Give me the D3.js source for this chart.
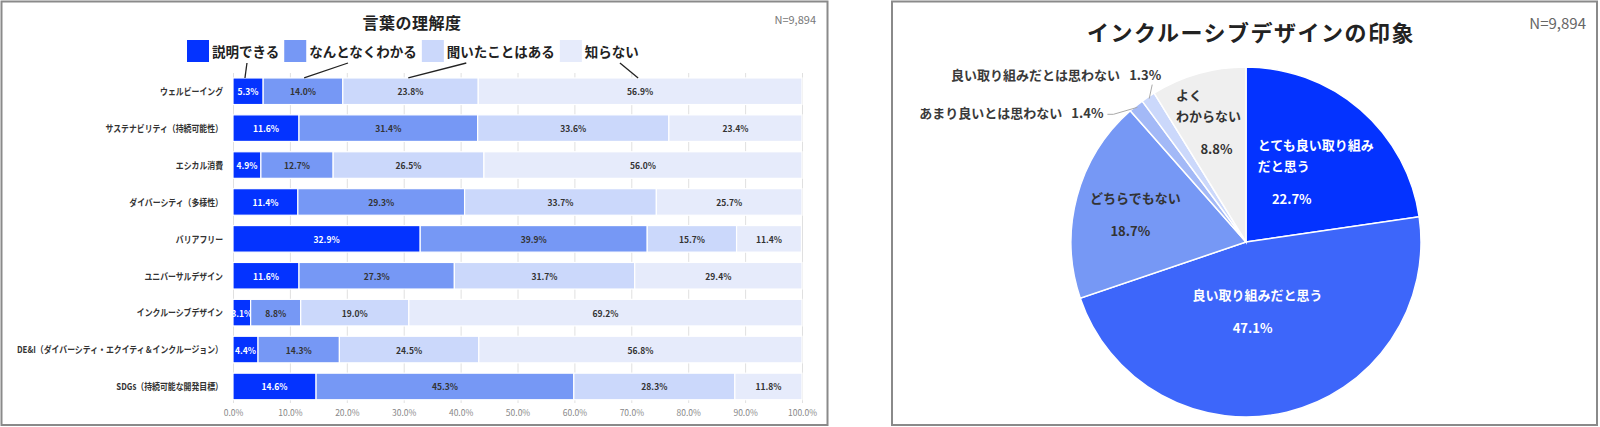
<!DOCTYPE html>
<html>
<head>
<meta charset="utf-8">
<script src="https://cdn.jsdelivr.net/npm/d3@7"></script>
<style>
  body { margin: 0; background: #fff; }
  svg text { font-family: 'Noto Sans CJK JP', 'Noto Sans', sans-serif; }
</style>
</head>
<body>
<div class="container"></div>
<script>
// 左：言葉の理解度
const categories = [
  'ウェルビーイング',
  'サステナビリティ（持続可能性）',
  'エシカル消費',
  'ダイバーシティ（多様性）',
  'バリアフリー',
  'ユニバーサルデザイン',
  'インクルーシブデザイン',
  'DE&I（ダイバーシティ・エクイティ＆インクルージョン）',
  'SDGs（持続可能な開発目標）'
]
const explainable = [5.3, 11.6, 4.9, 11.4, 32.9, 11.6, 3.1, 4.4, 14.6]
const somewhat = [14.0, 31.4, 12.7, 29.3, 39.9, 27.3, 8.8, 14.3, 45.3]
const heard = [23.8, 33.6, 26.5, 33.7, 15.7, 31.7, 19.0, 24.5, 28.3]
const unknown = [56.9, 23.4, 56.0, 25.7, 11.4, 29.4, 69.2, 56.8, 11.8]
const barKeys = ['説明できる', 'なんとなくわかる', '聞いたことはある', '知らない']
const xTicks = [0, 10, 20, 30, 40, 50, 60, 70, 80, 90, 100]
const barTitle = '言葉の理解度'

// 右：インクルーシブデザインの印象
const pieNames = [
  ['とても良い取り組み', 'だと思う'],
  ['良い取り組みだと思う'],
  ['どちらでもない'],
  ['あまり良いとは思わない'],
  ['良い取り組みだとは思わない'],
  ['よく', 'わからない']
]
const pieValues = [22.7, 47.1, 18.7, 1.4, 1.3, 8.8]
const pieTitle = 'インクルーシブデザインの印象'
const sampleSize = 'N=9,894'

// 色
const barColors = ['#0433ff', '#7698f5', '#cbd8fb', '#e6ebfb']
const pieColors = ['#0433ff', '#3d66fa', '#7698f5', '#a3b9f7', '#cbd8fb', '#efefef']

const svg = d3.select('.container')
              .append('svg')
              .attr('width', 1600)
              .attr('height', 427)

// 枠
svg.append('rect')
   .attr('x', 1.5).attr('y', 1.5)
   .attr('width', 826).attr('height', 423.5)
   .attr('fill', '#fff')
   .attr('stroke', '#8a8a8a')
   .attr('stroke-width', 2)
svg.append('rect')
   .attr('x', 892).attr('y', 1.5)
   .attr('width', 705).attr('height', 423.5)
   .attr('fill', '#fff')
   .attr('stroke', '#8a8a8a')
   .attr('stroke-width', 2)

// ---------- 帯グラフ ----------
svg.append('text')
   .attr('x', 412).attr('y', 22)
   .attr('text-anchor', 'middle')
   .attr('dominant-baseline', 'central')
   .style('font-size', '16px')
   .style('font-weight', 'bold')
   .style('letter-spacing', '0.5px')
   .attr('fill', '#222')
   .text(barTitle)

svg.append('text')
   .attr('x', 816).attr('y', 19)
   .attr('text-anchor', 'end')
   .attr('dominant-baseline', 'central')
   .style('font-size', '11px')
   .attr('fill', '#777')
   .text(sampleSize)

const xScale = d3.scaleLinear()
                 .domain([0, 100])
                 .range([233, 802])
const yScale = d3.scaleBand()
                 .domain(categories)
                 .range([72.8, 404.9])
                 .paddingInner(0.28)
                 .paddingOuter(0.14)

// グリッド
svg.append('g')
   .attr('class', 'grid')
   .attr('transform', 'translate(0,403)')
   .call(d3.axisBottom(xScale).tickValues(xTicks).tickSize(-330).tickFormat(''))
   .call(g => g.select('.domain').remove())
   .selectAll('line')
   .attr('stroke', '#e0e0e0')

// 目盛りラベル
svg.append('g')
   .attr('class', 'x-axis')
   .attr('transform', 'translate(0,407)')
   .call(d3.axisBottom(xScale).tickValues(xTicks).tickSize(0).tickPadding(3)
           .tickFormat(d => d.toFixed(1) + '%'))
   .call(g => g.select('.domain').remove())
   .selectAll('text')
   .attr('fill', '#888')
   .style('font-size', '8.5px')
   .style('font-family', "'Noto Sans CJK JP', sans-serif")

const rows = categories.map((c, i) => ({
  cat: c,
  '説明できる': explainable[i],
  'なんとなくわかる': somewhat[i],
  '聞いたことはある': heard[i],
  '知らない': unknown[i]
}))
const series = d3.stack().keys(barKeys)(rows)

const bars = svg.append('g').attr('class', 'bars')
series.forEach((s, si) => {
  bars.append('g')
      .selectAll('rect')
      .data(s)
      .enter()
      .append('rect')
      .attr('x', d => xScale(d[0]))
      .attr('y', d => yScale(d.data.cat))
      .attr('width', d => xScale(Math.min(d[1], 100)) - xScale(d[0]))
      .attr('height', yScale.bandwidth())
      .attr('fill', barColors[si])
      .attr('stroke', '#fff')
      .attr('stroke-width', 1.2)

  bars.append('g')
      .selectAll('text')
      .data(s)
      .enter()
      .append('text')
      .attr('x', d => (xScale(d[0]) + xScale(Math.min(d[1], 100))) / 2)
      .attr('y', d => yScale(d.data.cat) + yScale.bandwidth() / 2)
      .attr('text-anchor', 'middle')
      .attr('dominant-baseline', 'central')
      .style('font-size', '8.5px')
      .style('font-weight', 'bold')
      .attr('fill', si === 0 ? '#fff' : '#333')
      .text(d => (d[1] - d[0]).toFixed(1) + '%')
})

// 項目名
svg.append('g')
   .selectAll('text')
   .data(categories)
   .enter()
   .append('text')
   .attr('transform', d => 'translate(223,' + (yScale(d) + yScale.bandwidth() / 2) + ') scale(0.83,1)')
   .attr('text-anchor', 'end')
   .attr('dominant-baseline', 'central')
   .style('font-size', '9.5px')
   .style('font-weight', 'bold')
   .attr('fill', '#333')
   .text(d => d)

// 凡例
const legend = svg.append('g').attr('class', 'legend')
const legendPos = []
let lx = 187
barKeys.forEach((k, i) => {
  legend.append('rect')
        .attr('x', lx).attr('y', 40)
        .attr('width', 22).attr('height', 22)
        .attr('fill', barColors[i])
  const t = legend.append('text')
                  .attr('x', lx + 25).attr('y', 51)
                  .attr('dominant-baseline', 'central')
                  .style('font-size', '13.5px')
                  .style('font-weight', 'bold')
                  .attr('fill', '#222')
                  .text(k)
  const tw = t.node().getComputedTextLength()
  legendPos.push({ x: lx + 25, w: tw })
  lx += 25 + tw + 5
})

// 凡例から帯への線
const leaderFrom = [0.52, 0.36, 0.18, 0.65]
const leaderTo = [2.1, 12.5, 30.8, 71.2]
legend.selectAll('line')
      .data(leaderFrom)
      .enter()
      .append('line')
      .attr('x1', (d, i) => legendPos[i].x + d * legendPos[i].w)
      .attr('y1', 63)
      .attr('x2', (d, i) => xScale(leaderTo[i]))
      .attr('y2', yScale(categories[0]))
      .attr('stroke', '#222')
      .attr('stroke-width', 1.3)

// ---------- 円グラフ ----------
svg.append('text')
   .attr('x', 1251).attr('y', 31)
   .attr('text-anchor', 'middle')
   .attr('dominant-baseline', 'central')
   .style('font-size', '22px')
   .style('font-weight', 'bold')
   .style('letter-spacing', '1.5px')
   .attr('fill', '#222')
   .text(pieTitle)

svg.append('text')
   .attr('x', 1586).attr('y', 22)
   .attr('text-anchor', 'end')
   .attr('dominant-baseline', 'central')
   .style('font-size', '15px')
   .attr('fill', '#666')
   .text(sampleSize)

const radius = 175
const pieG = svg.append('g').attr('transform', 'translate(1246,242)')
const arcs = d3.pie().sort(null).value(d => d)(pieValues)
const arc = d3.arc().innerRadius(0).outerRadius(radius)

pieG.selectAll('path')
    .data(arcs)
    .enter()
    .append('path')
    .attr('d', arc)
    .attr('fill', (d, i) => pieColors[i])
    .attr('stroke', '#fff')
    .attr('stroke-width', 1.5)

function polar(a, r) {
  return [r * Math.sin(a), -r * Math.cos(a)]
}

// 内側ラベル [半径比, 角度補正]
const insideLabels = { 0: [0.565, 4], 1: [0.40, 4], 2: [0.653, -0.5], 5: [0.72, -1.5] }
Object.keys(insideLabels).forEach(key => {
  const i = +key
  const d = arcs[i]
  const mid = (d.startAngle + d.endAngle) / 2 + insideLabels[i][1] * Math.PI / 180
  const [cx, cy] = polar(mid, radius * insideLabels[i][0])
  const names = pieNames[i]
  const fill = i < 2 ? '#fff' : '#333'
  const total = (names.length - 1) * 21 + 33
  const top = cy - total / 2
  const g = pieG.append('g')
  const texts = names.map((n, j) => g.append('text')
                                     .attr('y', top + j * 21)
                                     .attr('dominant-baseline', 'central')
                                     .style('font-size', '13px')
                                     .style('font-weight', 'bold')
                                     .attr('fill', fill)
                                     .text(n))
  const widths = texts.map(t => t.node().getComputedTextLength())
  const maxW = d3.max(widths)
  const x0 = cx - maxW / 2
  texts.forEach(t => t.attr('x', x0))
  const lastW = widths[widths.length - 1]
  g.append('text')
   .attr('x', names.length > 1 ? x0 + lastW / 2 + 8 : cx - 5)
   .attr('y', top + total)
   .attr('text-anchor', 'middle')
   .attr('dominant-baseline', 'central')
   .style('font-size', '13px')
   .style('font-weight', 'bold')
   .attr('fill', fill)
   .text(pieValues[i].toFixed(1) + '%')
})

// 外側ラベル（引き出し線）
const outside = [3, 4]
outside.forEach(i => {
  const d = arcs[i]
  const mid = (d.startAngle + d.endAngle) / 2
  const [px, py] = polar(mid, radius - 2)
  let pts, tx, ty
  if (i === 4) {
    pts = [[px, py], [px + 3, py - 14]]
    tx = px + 12
    ty = py - 25
  } else {
    pts = [[px, py], [px - 24, py + 7], [px - 30, py + 7]]
    tx = px - 34
    ty = py + 5
  }
  pieG.append('path')
      .attr('d', d3.line()(pts))
      .attr('fill', 'none')
      .attr('stroke', '#aaa')
      .attr('stroke-width', 1)
  const t = pieG.append('text')
                .attr('x', tx).attr('y', ty)
                .attr('text-anchor', 'end')
                .attr('dominant-baseline', 'central')
                .style('font-size', '13px')
                .style('font-weight', 'bold')
                .attr('fill', '#3a3a3a')
  t.append('tspan').text(pieNames[i][0])
  t.append('tspan').attr('dx', 9).text(pieValues[i].toFixed(1) + '%')
})
</script>
</body>
</html>
